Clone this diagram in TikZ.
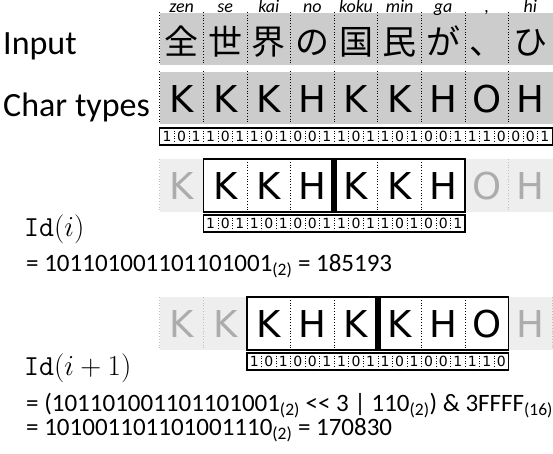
\RequirePackage{fix-cm}
\documentclass[tikz,border=0pt]{standalone}
\usepackage[no-math]{fontspec}
\setmainfont{Carlito}
\newfontfamily\cellfont{DejaVu Sans}
\newfontfamily\jpfont{Noto Sans CJK JP}
\definecolor{rowgray}{RGB}{204,204,204}
\definecolor{wingray}{RGB}{238,238,238}
\definecolor{fadegray}{RGB}{172,172,172}

\tikzset{
  cellchar/.style={font=\cellfont\fontsize{37}{40}\selectfont, anchor=base},
  fadechar/.style={cellchar, text=fadegray},
  jpchar/.style={font=\jpfont\fontsize{34}{38}\selectfont, anchor=base},
  romaji/.style={font=\itshape\fontsize{18}{20}\selectfont, anchor=base},
  bitdigit/.style={font=\cellfont\fontsize{14}{16}\selectfont, anchor=base},
  bitbox/.style={draw=black, fill=white, line width=1.3pt},
  bitsep/.style={black, dotted, line width=0.6pt},
  cellsep/.style={black, dotted, line width=0.8pt},
  fadesep/.style={black!25, dotted, line width=0.8pt},
  winbox/.style={draw=black, fill=white, line width=1.2pt},
  heavysep/.style={fill=black},
  labeltext/.style={font=\fontsize{34}{40}\selectfont, anchor=base west},
  formula/.style={font=\fontsize{25}{30}\selectfont, anchor=base west},
  idtext/.style={font=\fontsize{29}{34}\selectfont, anchor=base west}
}

\begin{document}
\begin{tikzpicture}[x=1pt,y=1pt]
  \tikzstyle{every node}+=[inner sep=0pt]
  \useasboundingbox (0,0) rectangle (553,-453);

  % input and char type rows
  \fill [rowgray] (159.8,-13) rectangle (553,-65);
  \fill [rowgray] (159.8,-72) rectangle (553,-124);
  \foreach \k in {0,...,8} {
    \draw [cellsep] ({159.8+43.6*\k},-12) -- ++(0,-53);
    \draw [cellsep] ({159.8+43.6*\k},-71) -- ++(0,-53);
  }
  \node [labeltext] (input) at (3,-54) {Input};
  \node [labeltext] (chartypes) at (3,-116) {Char types};
  \foreach \r [count=\k from 0] in {zen,se,kai,no,koku,min,ga,{,},hi}
    \node [romaji] (rom\k) at ({181.6+43.6*\k},-12.5) {\r};
  \foreach \c [count=\k from 0] in {全,世,界,の,国,民,が,、,ひ}
    \node [jpchar] (in\k) at ({181.6+43.6*\k},-54) {\c};
  \foreach \t [count=\k from 0] in {K,K,K,H,K,K,H,O,H}
    \node [cellchar] (ty\k) at ({181.6+43.6*\k},-112) {\t};

  % bits of all chars
  \draw [bitbox] (159.8,-128) rectangle (552.2,-145);
  \foreach \j in {1,...,26}
    \draw [bitsep] ({159.8+14.533*\j},-128) -- ++(0,-17);
  \foreach \b [count=\j from 0] in {1,0,1,1,0,1,1,0,1,0,0,1,1,0,1,1,0,1,0,0,1,1,1,0,0,0,1}
    \node [bitdigit] (bitall\j) at ({167.07+14.533*\j},-141) {\b};

  % window at i
  \fill [wingray] (159.8,-159) rectangle (553,-212);
  \foreach \k in {0,1,8}
    \draw [fadesep] ({159.8+43.6*\k},-159) -- ++(0,-53);
  \draw [winbox] (203.4,-159) rectangle (465,-212);
  \foreach \k in {2,3,5,6}
    \draw [cellsep] ({159.8+43.6*\k},-159) -- ++(0,-53);
  \path [heavysep] (331.2,-159) rectangle (337.2,-212);
  \node [fadechar] (wa0) at (181.6,-199.5) {K};
  \node [cellchar] (wa1) at (225.2,-199.5) {K};
  \node [cellchar] (wa2) at (268.8,-199.5) {K};
  \node [cellchar] (wa3) at (312.4,-199.5) {H};
  \node [cellchar] (wa4) at (356.0,-199.5) {K};
  \node [cellchar] (wa5) at (399.6,-199.5) {K};
  \node [cellchar] (wa6) at (443.2,-199.5) {H};
  \node [fadechar] (wa7) at (486.8,-199.5) {O};
  \node [fadechar] (wa8) at (530.4,-199.5) {H};
  \draw [bitbox] (203.4,-215) rectangle (465,-232);
  \foreach \j in {1,...,17}
    \draw [bitsep] ({203.4+14.533*\j},-215) -- ++(0,-17);
  \foreach \b [count=\j from 0] in {1,0,1,1,0,1,0,0,1,1,0,1,1,0,1,0,0,1}
    \node [bitdigit] (bita\j) at ({210.67+14.533*\j},-228) {\b};

  \node [idtext] (idi) at (24,-236) {$\mathtt{Id}(i)$};
  \node [formula] (vali) at (26,-271) {= 101101001101101001\textsubscript{(2)} = 185193};

  % window at i+1
  \fill [wingray] (159.8,-297) rectangle (553,-350);
  \foreach \k in {0,1,9}
    \draw [fadesep] ({159.8+43.6*\k},-297) -- ++(0,-53);
  \draw [winbox] (247,-297) rectangle (508.6,-350);
  \foreach \k in {3,4,6,7}
    \draw [cellsep] ({159.8+43.6*\k},-297) -- ++(0,-53);
  \path [heavysep] (374.8,-297) rectangle (380.8,-350);
  \node [fadechar] (wb0) at (181.6,-337.5) {K};
  \node [fadechar] (wb1) at (225.2,-337.5) {K};
  \node [cellchar] (wb2) at (268.8,-337.5) {K};
  \node [cellchar] (wb3) at (312.4,-337.5) {H};
  \node [cellchar] (wb4) at (356.0,-337.5) {K};
  \node [cellchar] (wb5) at (399.6,-337.5) {K};
  \node [cellchar] (wb6) at (443.2,-337.5) {H};
  \node [cellchar] (wb7) at (486.8,-337.5) {O};
  \node [fadechar] (wb8) at (530.4,-337.5) {H};
  \draw [bitbox] (247,-353) rectangle (508.6,-370);
  \foreach \j in {1,...,17}
    \draw [bitsep] ({247+14.533*\j},-353) -- ++(0,-17);
  \foreach \b [count=\j from 0] in {1,0,1,0,0,1,1,0,1,1,0,1,0,0,1,1,1,0}
    \node [bitdigit] (bitb\j) at ({254.27+14.533*\j},-366) {\b};

  \node [idtext] (idn) at (24,-375) {$\mathtt{Id}(i+1)$};
  \node [formula] (shift) at (26,-411.5) {= (101101001101101001\textsubscript{(2)} <\kern0pt< 3 | 110\textsubscript{(2)}) \& 3FFFF\textsubscript{(16)}};
  \node [formula] (valn) at (26,-435.5) {= 101001101101001110\textsubscript{(2)} = 170830};
\end{tikzpicture}
\end{document}
